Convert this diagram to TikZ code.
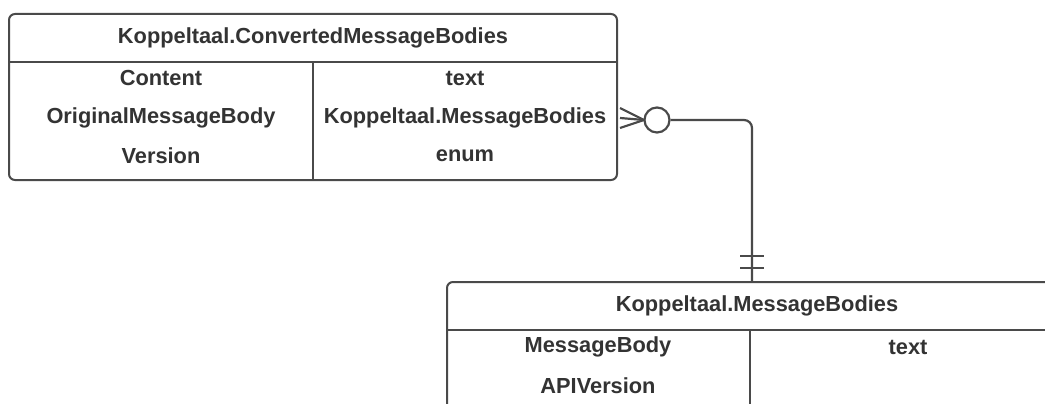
\documentclass[tikz,border=0pt]{standalone}
\usepackage{fontspec}
\setmainfont{Liberation Sans}
\definecolor{erline}{HTML}{4A4A4A}
\definecolor{ertext}{HTML}{333333}

\begin{document}
\begin{tikzpicture}[
x=1pt,
y=-1pt,
entity/.style={rectangle, draw=erline, line width=2pt, rounded corners=6pt, inner sep=0pt},
field/.style={text=ertext, font=\fontsize{21.8}{26}\selectfont\bfseries, inner sep=0pt},
rel/.style={draw=erline, line width=2.2pt},
]
\clip (0,0) rectangle (1045,404);
\fill[white] (0,0) rectangle (1045,404);
% converted bodies
\node[entity, minimum width=608pt, minimum height=166pt] (conv) at (313,97) {};
\node[field] (convtitle) at (313,38) {Koppeltaal.ConvertedMessageBodies};
\draw[erline, line width=2pt] (9,62) -- (617,62);
\draw[erline, line width=2pt] (313,62) -- (313,180);
\node[field] (content) at (161,78) {Content};
\node[field] (orig) at (161,118) {OriginalMessageBody};
\node[field] (version) at (161,156) {Version};
\node[field] at (465,78) {text};
\node[field] (origtype) at (465,118) {Koppeltaal.MessageBodies};
\node[field] at (465,156) {enum};
% message bodies
\node[entity, minimum width=620pt, minimum height=170pt] (msg) at (757,367) {};
\node[field] (msgtitle) at (757,306) {Koppeltaal.MessageBodies};
\draw[erline, line width=2pt] (447,330) -- (1067,330);
\draw[erline, line width=2pt] (750,330) -- (750,404);
\node[field] (body) at (598,347) {MessageBody};
\node[field] (api) at (598,386) {APIVersion};
\node[field] at (908,347) {text};
% relation
\coordinate (foot) at (644,120);
\coordinate (msgtop) at (752,282);
\foreach \d in {-10,0,10}
{
 \draw[rel] (conv.east |- origtype) ++(2,\d) -- (foot);
}
\node[circle, rel, fill=white, minimum size=25pt, inner sep=0pt] (opt) at (657,120) {};
\draw[rel, rounded corners=8pt] (opt.east) -| (msgtop);
\draw[rel] (msgtop) ++(-12,-26) -- ++(24,0);
\draw[rel] (msgtop) ++(-12,-14) -- ++(24,0);
\end{tikzpicture}
\end{document}
